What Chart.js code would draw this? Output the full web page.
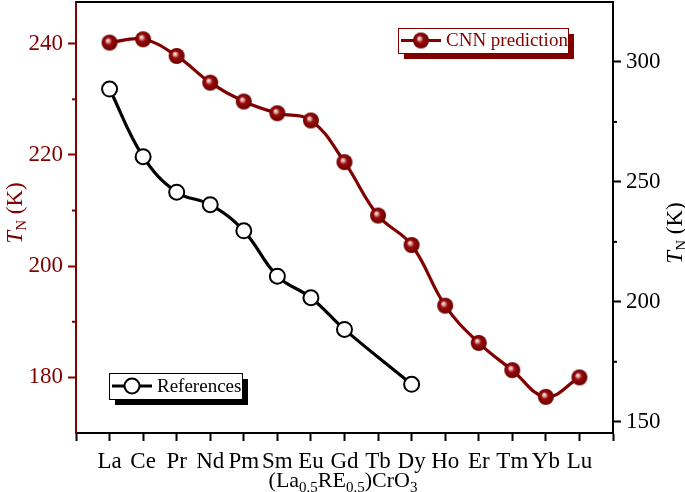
<!DOCTYPE html>
<html>
<head>
<meta charset="utf-8">
<script src="https://cdn.jsdelivr.net/npm/chart.js@4"></script>
<style>
  html, body { margin: 0; padding: 0; background: #fff; }
</style>
</head>
<body>
<canvas id="tnChart" width="685" height="492"></canvas>
<script>
// Neel temperature of (La0.5RE0.5)CrO3 - CNN prediction vs references
const categories = ['La', 'Ce', 'Pr', 'Nd', 'Pm', 'Sm', 'Eu', 'Gd', 'Tb', 'Dy', 'Ho', 'Er', 'Tm', 'Yb', 'Lu'];
const cnnValues = [240.2, 240.8, 237.8, 233.0, 229.6, 227.5, 226.2, 218.7, 209.1, 203.8, 192.9, 186.2, 181.3, 176.5, 180.0];
const refValues = [288.7, 260.5, 245.7, 240.5, 229.6, 210.7, 201.7, 188.5, null, 165.6, null, null, null, null, null];
const leftTicks = [180, 200, 220, 240];
const leftMinor = [190, 210, 230];
const rightTicks = [150, 200, 250, 300];
const rightMinor = [175, 225, 275];

const RED = '#800000';
const FONT = '"Liberation Serif", "Times New Roman", serif';

// shaded ball marker for the CNN series
function makeSphere(r) {
    const c = document.createElement('canvas');
    c.width = c.height = 2 * r + 2;
    const g = c.getContext('2d');
    const cx = r + 1, cy = r + 1;
    const grad = g.createRadialGradient(cx - r * 0.25, cy - r * 0.3, 0, cx, cy, r);
    grad.addColorStop(0, '#ffffff');
    grad.addColorStop(0.18, '#e8b0b0');
    grad.addColorStop(0.45, '#9a0a0a');
    grad.addColorStop(1, '#6a0000');
    g.fillStyle = grad;
    g.beginPath();
    g.arc(cx, cy, r, 0, Math.PI * 2);
    g.fill();
    return c;
}
const sphere = makeSphere(8);

const toPoints = arr => arr.map((v, i) => ({ x: i, y: v }));

function drawSubTitle(ctx, parts) {
    // parts: [text, size, italic, dy]
    let w = 0;
    parts.forEach(p => {
        ctx.font = (p[2] ? 'italic ' : '') + p[1] + 'px ' + FONT;
        w += ctx.measureText(p[0]).width;
    });
    let x = -w / 2;
    parts.forEach(p => {
        ctx.font = (p[2] ? 'italic ' : '') + p[1] + 'px ' + FONT;
        ctx.fillText(p[0], x, p[3]);
        x += ctx.measureText(p[0]).width;
    });
}

function drawLegend(ctx, box, color, label, marker) {
    ctx.fillStyle = color;
    ctx.fillRect(box.x + 6, box.y + 6, box.w, box.h);
    ctx.fillStyle = '#fff';
    ctx.fillRect(box.x, box.y, box.w, box.h);
    ctx.strokeStyle = color;
    ctx.lineWidth = 1;
    ctx.strokeRect(box.x + 0.5, box.y + 0.5, box.w, box.h);
    const my = box.y + box.h / 2;
    ctx.strokeStyle = color;
    ctx.lineWidth = 3;
    ctx.beginPath();
    ctx.moveTo(box.x + 3, my);
    ctx.lineTo(box.x + 43, my);
    ctx.stroke();
    marker(box.x + 23, my);
    ctx.fillStyle = color;
    ctx.font = '19px ' + FONT;
    ctx.textBaseline = 'middle';
    ctx.textAlign = 'left';
    ctx.fillText(label, box.x + 48, my + 1);
}

const decor = {
    id: 'decor',
    afterDraw(chart) {
        const ctx = chart.ctx;
        const a = chart.chartArea;
        const yL = chart.scales.yL, yR = chart.scales.yR;
        ctx.save();
        // frame top
        ctx.strokeStyle = '#000';
        ctx.lineWidth = 2;
        ctx.beginPath();
        ctx.moveTo(a.left, a.top);
        ctx.lineTo(a.right, a.top);
        ctx.stroke();
        // minor ticks
        ctx.strokeStyle = RED;
        leftMinor.forEach(v => {
            const p = yL.getPixelForValue(v);
            ctx.beginPath(); ctx.moveTo(a.left - 4, p); ctx.lineTo(a.left, p); ctx.stroke();
        });
        ctx.strokeStyle = '#000';
        rightMinor.forEach(v => {
            const p = yR.getPixelForValue(v);
            ctx.beginPath(); ctx.moveTo(a.right, p); ctx.lineTo(a.right + 4, p); ctx.stroke();
        });

        // legends
        drawLegend(ctx, { x: 398, y: 28, w: 170, h: 25 }, RED, 'CNN prediction',
            (x, y) => ctx.drawImage(sphere, x - sphere.width / 2, y - sphere.height / 2));
        drawLegend(ctx, { x: 109, y: 373, w: 133, h: 26 }, '#000', 'References',
            (x, y) => {
                ctx.fillStyle = '#fff';
                ctx.lineWidth = 2;
                ctx.beginPath(); ctx.arc(x, y, 7.5, 0, Math.PI * 2); ctx.fill(); ctx.stroke();
            });

        // axis titles
        ctx.textBaseline = 'alphabetic';
        ctx.textAlign = 'left';
        ctx.fillStyle = RED;
        ctx.save();
        ctx.translate(22, 213);
        ctx.rotate(-Math.PI / 2);
        drawSubTitle(ctx, [['T', 23, true, 0], ['N', 15, false, 4], [' (K)', 23, false, 0]]);
        ctx.restore();
        ctx.fillStyle = '#000';
        ctx.save();
        ctx.translate(682, 233);
        ctx.rotate(-Math.PI / 2);
        drawSubTitle(ctx, [['T', 23, true, 0], ['N', 15, false, 4], [' (K)', 23, false, 0]]);
        ctx.restore();
        ctx.save();
        ctx.translate(343, 487);
        drawSubTitle(ctx, [['(La', 22, false, 0], ['0.5', 15, false, 5], ['RE', 22, false, 0],
            ['0.5', 15, false, 5], [')CrO', 22, false, 0], ['3', 15, false, 5]]);
        ctx.restore();
        ctx.restore();
    }
};

// keep axis boxes at fixed sizes, no label overhang padding
function fixBox(w, h) {
    return s => {
        if (w !== null) s.width = w;
        if (h !== null) s.height = h;
        s.paddingTop = 0; s.paddingBottom = 0; s.paddingLeft = 0; s.paddingRight = 0;
    };
}

const ctx = document.getElementById('tnChart').getContext('2d');
const tnChart = new Chart(ctx, {
    type: 'line',
    data: {
        datasets: [{
            label: 'CNN prediction',
            data: toPoints(cnnValues),
            yAxisID: 'yL',
            borderColor: RED,
            borderWidth: 3.2,
            pointStyle: sphere,
            pointRadius: 8,
            tension: 0.4,
            order: 1
        }, {
            label: 'References',
            data: toPoints(refValues),
            yAxisID: 'yR',
            borderColor: '#000',
            borderWidth: 3.2,
            pointBackgroundColor: '#fff',
            pointBorderColor: '#000',
            pointBorderWidth: 2,
            pointRadius: 7.5,
            spanGaps: true,
            tension: 0.4,
            order: 2
        }]
    },
    options: {
        responsive: false,
        animation: false,
        layout: { autoPadding: false, padding: { top: 2 } },
        plugins: {
            legend: { display: false },
            tooltip: { enabled: false }
        },
        scales: {
            x: {
                type: 'linear',
                min: -1,
                max: 15,
                afterFit: fixBox(null, 59),
                afterBuildTicks: s => { s.ticks = []; for (let i = -1; i <= 15; i++) s.ticks.push({ value: i }); },
                ticks: {
                    autoSkip: false,
                    maxRotation: 0,
                    padding: 7,
                    color: '#000',
                    font: { family: FONT, size: 23 },
                    callback: v => categories[v] ?? ''
                },
                grid: { drawOnChartArea: false, tickLength: 8, tickWidth: 2, tickColor: '#000' },
                border: { color: '#000', width: 2 }
            },
            yL: {
                position: 'left',
                min: 170,
                max: 247.5,
                afterFit: fixBox(76, null),
                afterBuildTicks: s => { s.ticks = leftTicks.map(v => ({ value: v })); },
                ticks: { color: RED, padding: 5, font: { family: FONT, size: 23 } },
                grid: { drawOnChartArea: false, tickLength: 8, tickWidth: 2, tickColor: RED },
                border: { color: RED, width: 2 }
            },
            yR: {
                position: 'right',
                min: 145.3,
                max: 325,
                afterFit: fixBox(72, null),
                afterBuildTicks: s => { s.ticks = rightTicks.map(v => ({ value: v })); },
                ticks: { color: '#000', padding: 5, font: { family: FONT, size: 23 } },
                grid: { drawOnChartArea: false, tickLength: 8, tickWidth: 2, tickColor: '#000' },
                border: { color: '#000', width: 2 }
            }
        }
    },
    plugins: [decor]
});
</script>
</body>
</html>
